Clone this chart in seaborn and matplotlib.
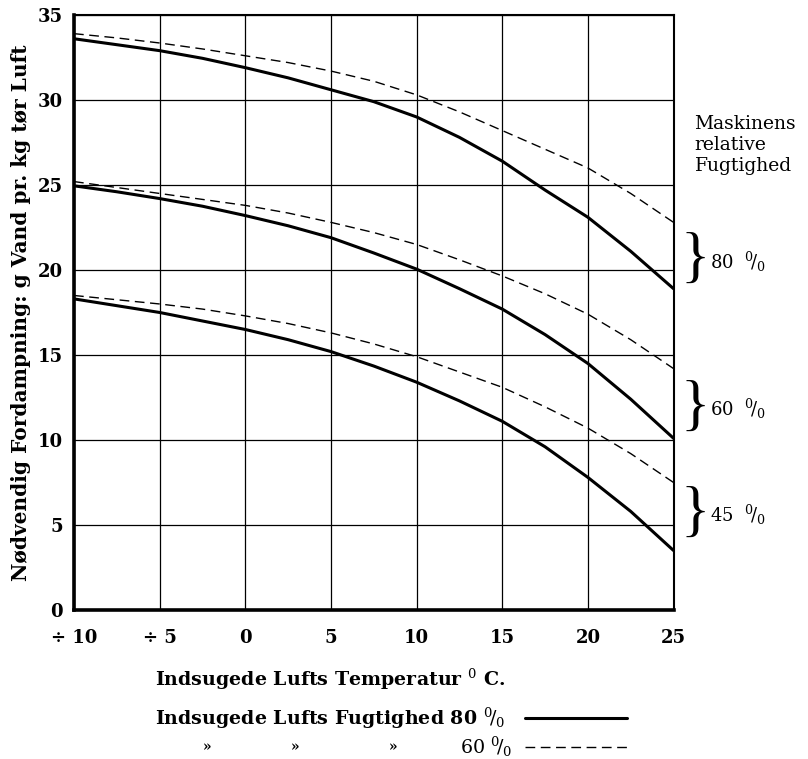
import pandas as pd
import seaborn as sns
import matplotlib.pyplot as plt
from matplotlib.lines import Line2D

# Temperature of intake air (deg C)
temps = [-10, -7.5, -5, -2.5, 0, 2.5, 5, 7.5, 10, 12.5, 15, 17.5, 20, 22.5, 25]

# Machine humidity 80 %, 60 %, 45 % -- intake air humidity 80 % (solid) / 60 % (dashed)
m80_a80 = [33.6, 33.25, 32.9, 32.45, 31.9, 31.3, 30.6, 29.9, 29.0, 27.8, 26.4, 24.7, 23.1, 21.1, 18.9]
m80_a60 = [33.9, 33.65, 33.35, 33.0, 32.6, 32.2, 31.7, 31.1, 30.3, 29.3, 28.2, 27.1, 26.0, 24.5, 22.8]
m60_a80 = [24.95, 24.6, 24.2, 23.75, 23.2, 22.6, 21.9, 21.0, 20.05, 18.9, 17.7, 16.2, 14.5, 12.4, 10.1]
m60_a60 = [25.2, 24.85, 24.5, 24.15, 23.8, 23.35, 22.8, 22.2, 21.5, 20.6, 19.65, 18.6, 17.4, 15.9, 14.2]
m45_a80 = [18.3, 17.9, 17.5, 17.0, 16.5, 15.9, 15.2, 14.35, 13.4, 12.3, 11.1, 9.6, 7.8, 5.8, 3.5]
m45_a60 = [18.5, 18.25, 18.0, 17.7, 17.3, 16.85, 16.3, 15.65, 14.9, 14.0, 13.1, 11.95, 10.7, 9.2, 7.5]

x_ticks = [-10, -5, 0, 5, 10, 15, 20, 25]
x_ticklabels = ['\u00f7 10', '\u00f7 5', '0', '5', '10', '15', '20', '25']
y_ticks = [0, 5, 10, 15, 20, 25, 30, 35]

# brace labels on the right: (label, y centre)
machine_labels = ['80', '60', '45']
machine_label_y = [20.5, 11.8, 5.6]

sns.set_style('white')
plt.rcParams['font.family'] = ['DejaVu Serif']
plt.rcParams['mathtext.fontset'] = 'dejavuserif'
plt.rcParams['text.color'] = 'black'
plt.rcParams['xtick.color'] = 'black'
plt.rcParams['ytick.color'] = 'black'
plt.rcParams['axes.labelcolor'] = 'black'

fig = plt.figure(figsize=(8.08, 7.59), dpi=100)
ax = fig.add_axes([0.0916, 0.1963, 0.742, 0.784])

series = [m80_a80, m80_a60, m60_a80, m60_a60, m45_a80, m45_a60]
for i, vals in enumerate(series):
    df = pd.DataFrame({'t': temps, 'v': vals})
    if i % 2 == 0:
        sns.lineplot(data=df, x='t', y='v', ax=ax, color='black', lw=2.2)
    else:
        sns.lineplot(data=df, x='t', y='v', ax=ax, color='black', lw=1.0,
                     dashes=False, linestyle=(0, (7, 4)))

ax.set_xlim(-10, 25)
ax.set_ylim(0, 35)
ax.set_xticks(x_ticks)
ax.set_xticklabels(x_ticklabels)
ax.set_yticks(y_ticks)
ax.grid(True, color='black', lw=0.9)
ax.tick_params(length=0, labelsize=13)
ax.tick_params(axis='x', pad=14)
ax.tick_params(axis='y', pad=8)
for lab in ax.get_xticklabels() + ax.get_yticklabels():
    lab.set_fontweight('bold')

for side in ['left', 'bottom']:
    ax.spines[side].set_linewidth(2.6)
for side in ['top', 'right']:
    ax.spines[side].set_linewidth(1.5)
for s in ax.spines.values():
    s.set_color('black')

ax.set_xlabel('')
ax.set_ylabel('N\u00f8dvendig Fordampning: g Vand pr. kg t\u00f8r Luft',
              fontsize=14.5, fontweight='bold', labelpad=5)

# right-hand annotation
ax.text(1.035, 0.781, 'Maskinens\nrelative\nFugtighed', transform=ax.transAxes,
        fontsize=13.5, va='center', ha='left', linespacing=1.2)
for lab, yc in zip(machine_labels, machine_label_y):
    ax.text(25.4, yc, '}', fontsize=44, family='Liberation Serif',
            va='center', ha='left', clip_on=False)
    ax.text(27.1, yc, lab + r'  $^{0}\!/_{0}$', fontsize=13, va='center', ha='left',
            clip_on=False)

# bottom texts
fig.text(0.192, 0.105, 'Indsugede Lufts Temperatur $^{0}$ C.', fontsize=13.7,
         fontweight='bold', ha='left', va='center')
fig.text(0.192, 0.054, r'Indsugede Lufts Fugtighed 80 $^{0}\!/_{0}$', fontsize=13.7,
         fontweight='bold', ha='left', va='center')
for xq in [0.256, 0.365, 0.486]:
    fig.text(xq, 0.016, '\u00bb', fontsize=10, fontweight='bold', ha='center', va='center')
fig.text(0.634, 0.016, r'60 $^{0}\!/_{0}$', fontsize=13.7, ha='right', va='center')
fig.add_artist(Line2D([0.65, 0.776], [0.054, 0.054], color='black', lw=2.2))
fig.add_artist(Line2D([0.65, 0.776], [0.016, 0.016], color='black', lw=1.0,
                      linestyle=(0, (7, 4))))

fig.savefig('out.png', dpi=100)
